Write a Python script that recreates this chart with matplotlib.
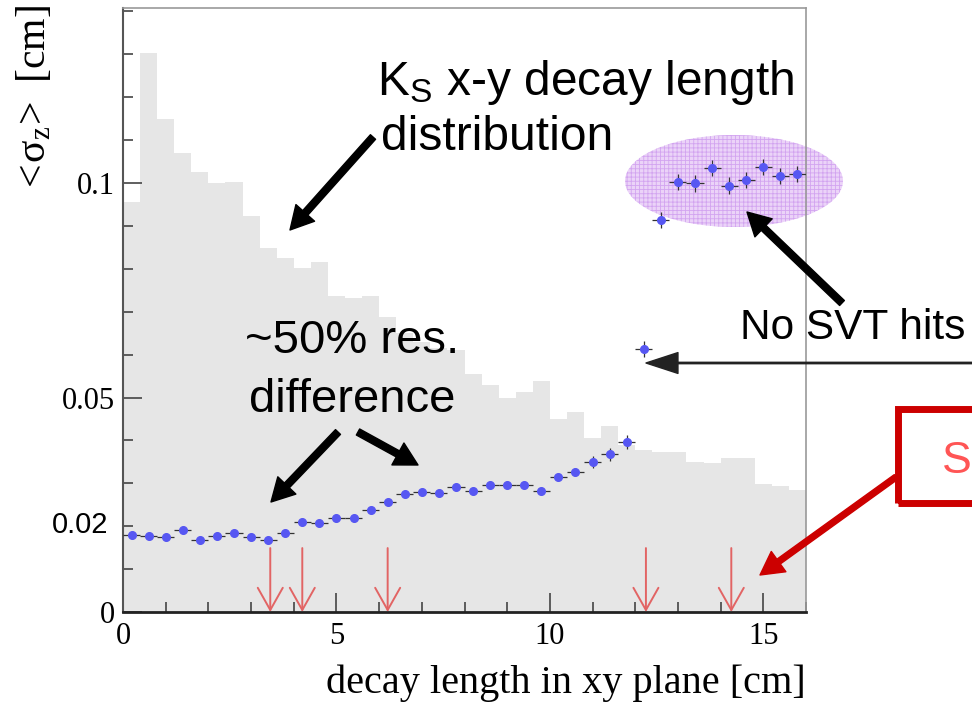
import matplotlib
matplotlib.use('Agg')
import matplotlib.pyplot as plt
import numpy as np
from matplotlib.patches import Ellipse, Rectangle

W, H = 972, 702
plt.rcParams['mathtext.fontset'] = 'custom'
plt.rcParams['mathtext.rm'] = 'Liberation Sans'
plt.rcParams['mathtext.sf'] = 'Liberation Serif'
plt.rcParams['mathtext.it'] = 'Liberation Sans:italic'
plt.rcParams['hatch.linewidth'] = 0.6

# ---------------- data ----------------
bin_width = 0.4
hist_vals = [0.0956, 0.1302, 0.1149, 0.1071, 0.1025, 0.0999, 0.1002, 0.0923,
             0.0849, 0.0825, 0.0802, 0.0816, 0.0737, 0.0731, 0.0737, 0.0687,
             0.0650, 0.0630, 0.0615, 0.0610, 0.0555, 0.0529, 0.0499, 0.0514,
             0.0539, 0.0450, 0.0467, 0.0406, 0.0434, 0.0390, 0.0378, 0.0373,
             0.0373, 0.0350, 0.0347, 0.0358, 0.0358, 0.0299, 0.0294, 0.0284]

res_x = [0.2, 0.6, 1.0, 1.4, 1.8, 2.2, 2.6, 3.0, 3.4, 3.8,
         4.2, 4.6, 5.0, 5.4, 5.8, 6.2, 6.6, 7.0, 7.4, 7.8,
         8.2, 8.6, 9.0, 9.4, 9.8, 10.2, 10.6, 11.0, 11.4, 11.8]
res_y = [0.0179, 0.0178, 0.0176, 0.0191, 0.0169, 0.0178, 0.0185, 0.0176, 0.0169, 0.0183,
         0.0209, 0.0208, 0.0220, 0.0219, 0.0237, 0.0256, 0.0275, 0.0279, 0.0277, 0.0291,
         0.0282, 0.0296, 0.0296, 0.0296, 0.0282, 0.0315, 0.0326, 0.0350, 0.0368, 0.0396]
res_yerr = [0.0003, 0.0003, 0.0003, 0.0003, 0.0003, 0.0003, 0.0003, 0.0003, 0.0003, 0.0003,
            0.0003, 0.0003, 0.0003, 0.0003, 0.0003, 0.0003, 0.0003, 0.0003, 0.0003, 0.0003,
            0.0003, 0.0003, 0.0003, 0.0003, 0.0003, 0.0007, 0.0009, 0.0014, 0.0015, 0.0016]

nosvt_x = [12.2, 12.6, 13.0, 13.4, 13.8, 14.2, 14.6, 15.0, 15.4, 15.8]
nosvt_y = [0.0613, 0.0914, 0.1003, 0.0999, 0.1035, 0.0994, 0.1007, 0.1038, 0.1017, 0.1021]
nosvt_yerr = [0.0019, 0.0019, 0.0019, 0.0019, 0.0019, 0.0019, 0.0019, 0.0019, 0.0019, 0.0019]

marker_x = [3.45, 4.2, 6.2, 12.25, 14.25]
marker_top = 0.0149

x_ticks = [0, 5, 10, 15]
x_ticklabels = ['0', '5', '10', '15']
y_ticks = [0, 0.05, 0.1]
y_ticklabels = ['0', '0.05', '0.1']

# ---------------- figure ----------------
fig = plt.figure(figsize=(W / 100, H / 100), dpi=100)
ax = fig.add_axes([123 / W, 1 - 612 / H, (806 - 123) / W, (612 - 8) / H])
ax.set_xlim(0, 16)
ax.set_ylim(0, 0.1408)

edges = np.arange(len(hist_vals) + 1) * bin_width
ax.stairs(hist_vals, edges, fill=True, color='#e6e6e6', zorder=1)

ax.errorbar(res_x, res_y, xerr=bin_width / 2, yerr=res_yerr, fmt='o', color='#5757f2',
            ms=5.5, ecolor='#333333', elinewidth=0.9, capsize=0, zorder=3)
ax.errorbar(nosvt_x, nosvt_y, xerr=bin_width / 2, yerr=nosvt_yerr, fmt='o', color='#5757f2',
            ms=5.5, ecolor='#333333', elinewidth=0.9, capsize=0, zorder=3)

for mx in marker_x:
    ax.annotate('', xy=(mx, 0), xytext=(mx, marker_top),
                arrowprops=dict(arrowstyle='->,head_length=1.6,head_width=0.9',
                                color='#e26464', lw=1.4, shrinkA=0, shrinkB=0,
                                mutation_scale=10), zorder=4)

# ellipse around no-SVT points (figure pixel geometry)
ell = Ellipse((734 / W, 1 - 181 / H), 218 / W, 92 / H, transform=fig.transFigure,
              facecolor='#ebd3f8', edgecolor='#d2a4f0', lw=0, hatch='++++',
              clip_on=False, zorder=1.5)
ax.add_artist(ell)

ax.set_xticks(x_ticks)
ax.set_xticklabels(x_ticklabels)
ax.set_yticks(y_ticks)
ax.set_yticklabels(y_ticklabels)
ax.set_xticks(np.arange(0, 17, 1), minor=True)
ax.set_yticks(np.arange(0, 0.141, 0.01), minor=True)
ax.tick_params(which='both', direction='in', top=False, right=False, color='#444444', width=1.2)
ax.tick_params(which='major', length=14, labelsize=22)
ax.tick_params(which='minor', length=7)
ax.tick_params(axis='x', which='major', pad=7)
ax.tick_params(axis='y', which='major', pad=6)
for lab in ax.get_xticklabels() + ax.get_yticklabels():
    lab.set_fontfamily('Liberation Serif')

ax.spines['left'].set_color('#555555')
ax.spines['left'].set_linewidth(1.5)
ax.spines['bottom'].set_color('#222222')
ax.spines['bottom'].set_linewidth(2)
for s in ('top', 'right'):
    ax.spines[s].set_color('#999999')
    ax.spines[s].set_linewidth(1.2)


def fp(x, y):
    return (x, H - y)


# labels
fig.text(108 / W, 1 - 525 / H, '0.02', ha='right', va='center',
         family='Liberation Sans', fontsize=21)
fig.text(566 / W, 1 - 693 / H, 'decay length in xy plane [cm]', ha='center', va='baseline',
         family='Liberation Serif', fontsize=29)
fig.text(33 / W, 1 - 100 / H, r'$\mathsf{<\!\sigma_z\!>\ [cm]}$', rotation=90,
         ha='center', va='center', fontsize=30)

# annotations
fig.text(377 / W, 1 - 95 / H, r'K$_\mathrm{S}$ x-y decay length', ha='left', va='baseline',
         family='Liberation Sans', fontsize=34.5)
fig.text(381 / W, 1 - 150 / H, 'distribution', ha='left', va='baseline',
         family='Liberation Sans', fontsize=34.5)
fig.text(352 / W, 1 - 353 / H, '~50% res.', ha='center', va='baseline',
         family='Liberation Sans', fontsize=34)
fig.text(352 / W, 1 - 412 / H, 'difference', ha='center', va='baseline',
         family='Liberation Sans', fontsize=34)
fig.text(740 / W, 1 - 339 / H, 'No SVT hits', ha='left', va='baseline',
         family='Liberation Sans', fontsize=30.5)
fig.text(942 / W, 1 - 473 / H, 'S', ha='left', va='baseline',
         family='Liberation Sans', fontsize=32, color='#ff5555')

fig.add_artist(Rectangle((898 / W, 1 - 503 / H), 200 / W, 94 / H, transform=fig.transFigure,
                         fill=False, ec='#cc0000', lw=5, clip_on=False))

thick = dict(arrowstyle='simple,head_length=1.1,head_width=1.2,tail_width=0.33',
             mutation_scale=15, color='black', shrinkA=0, shrinkB=0)
for tail, tip in [((373, 137), (290, 230)),
                  ((338, 432), (271, 502)),
                  ((358, 432), (418, 465)),
                  ((842, 303), (747, 212))]:
    ax.annotate('', xy=fp(*tip), xytext=fp(*tail), xycoords='figure pixels',
                textcoords='figure pixels', arrowprops=thick, annotation_clip=False)

ax.annotate('', xy=fp(760, 575), xytext=fp(896, 477), xycoords='figure pixels',
            textcoords='figure pixels', annotation_clip=False,
            arrowprops=dict(arrowstyle='simple,head_length=1.1,head_width=1.2,tail_width=0.28',
                            mutation_scale=15, color='#cc0000', shrinkA=0, shrinkB=0))

ax.annotate('', xy=fp(646, 363), xytext=fp(990, 363), xycoords='figure pixels',
            textcoords='figure pixels', annotation_clip=False,
            arrowprops=dict(arrowstyle='simple,head_length=2.3,head_width=1.5,tail_width=0.1',
                            mutation_scale=10, color='#222222', shrinkA=0, shrinkB=0))

fig.savefig('out.png', dpi=100)
